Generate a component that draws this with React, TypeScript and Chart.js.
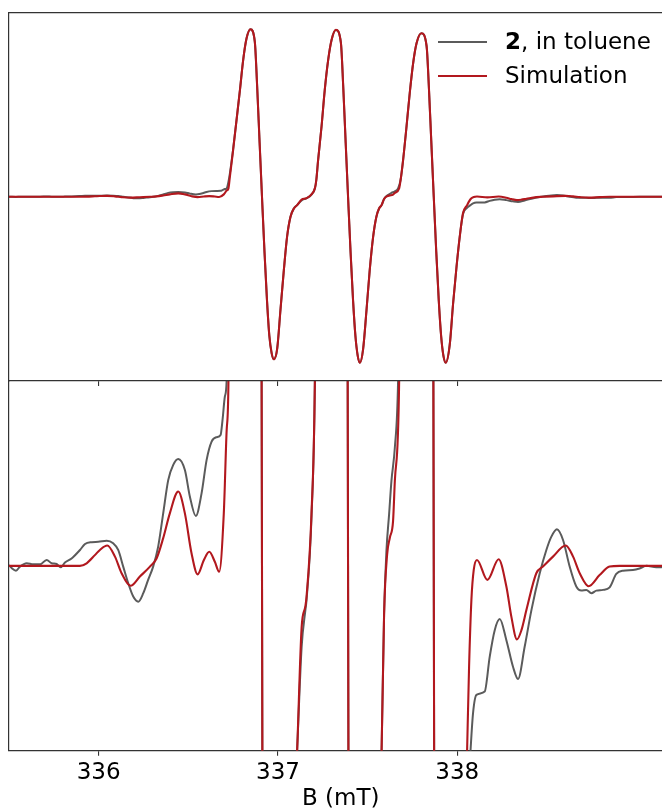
import React, { useEffect, useRef } from 'react';
import { Chart, registerables } from 'chart.js';

Chart.register(...registerables);

// ---- axis values ----
const xTickValues = [336, 337, 338];
const xMin = 335.5;
const xMax = 339.2;
const topYMin = -1.1;
const topYMax = 1.1;
const zoomYMin = -0.05;
const zoomYMax = 0.05;

// ---- Simulation (red) : field B (mT) and normalised derivative intensity ----
const simB = [
  335.500, 335.673, 335.896, 335.933, 335.979, 336.007, 336.048, 336.091, 336.128, 336.178,
  336.230, 336.286, 336.323, 336.360, 336.397, 336.444, 336.481, 336.518, 336.552, 336.587,
  336.617, 336.648, 336.672, 336.698, 336.714, 336.724, 336.732, 336.750, 336.769, 336.788,
  336.806, 336.825, 336.847, 336.871, 336.884, 336.897, 336.911, 336.925, 336.939, 336.952,
  336.965, 336.977, 336.996, 337.014, 337.033, 337.051, 337.070, 337.089, 337.107, 337.132,
  337.153, 337.159, 337.187, 337.206, 337.214, 337.224, 337.243, 337.261, 337.280, 337.299,
  337.323, 337.351, 337.364, 337.377, 337.391, 337.405, 337.419, 337.432, 337.445, 337.457,
  337.475, 337.494, 337.512, 337.531, 337.549, 337.564, 337.578, 337.592, 337.609, 337.624,
  337.642, 337.652, 337.676, 337.684, 337.698, 337.717, 337.735, 337.754, 337.773, 337.800,
  337.829, 337.842, 337.855, 337.869, 337.883, 337.897, 337.910, 337.923, 337.936, 337.958,
  337.977, 337.996, 338.014, 338.032, 338.055, 338.066, 338.079, 338.092, 338.110, 338.168,
  338.231, 338.274, 338.302, 338.333, 338.358, 338.386, 338.441, 338.478, 338.534, 338.605,
  338.646, 338.683, 338.733, 338.794, 338.850, 338.906, 339.200,
];
const simI = [
  0, 0, 0, 0.0007, 0.0029, 0.0043, 0.0055, 0.0025, -0.0020, -0.0054,
  -0.0029, -0.0002, 0.0020, 0.0075, 0.0142, 0.0201, 0.0142, 0.0034, -0.0023, 0.0016,
  0.0038, 0.0011, -0.0016, 0.0142, 0.0367, 0.050, 0.120, 0.279, 0.458, 0.637,
  0.816, 0.946, 1.000, 0.925, 0.660, 0.340, 0.000, -0.330, -0.620, -0.830,
  -0.935, -0.970, -0.905, -0.676, -0.437, -0.238, -0.119, -0.070, -0.050, -0.0167,
  -0.0109, -0.0086, 0.014, 0.050, 0.100, 0.219, 0.418, 0.637, 0.816, 0.936,
  0.996, 0.920, 0.660, 0.340, 0.000, -0.330, -0.620, -0.830, -0.950, -0.991,
  -0.910, -0.676, -0.437, -0.238, -0.119, -0.070, -0.050, -0.013, 0.0031, 0.0076,
  0.0121, 0.023, 0.050, 0.100, 0.219, 0.418, 0.618, 0.797, 0.916, 0.976,
  0.900, 0.650, 0.335, 0.000, -0.330, -0.620, -0.830, -0.950, -0.991, -0.885,
  -0.636, -0.418, -0.238, -0.099, -0.050, -0.0273, -0.0092, -0.0011, 0.0016, -0.0038,
  0.0018, -0.0056, -0.0138, -0.0199, -0.0174, -0.0119, -0.0020, -0.0002, 0.0025, 0.0055,
  0.0025, -0.0020, -0.0055, -0.0025, -0.0002, 0, 0,
];

// ---- Experiment "2, in toluene" (grey) ----
const expB = [
  335.500, 335.515, 335.539, 335.561, 335.599, 335.635, 335.673, 335.710, 335.738, 335.766,
  335.788, 335.812, 335.849, 335.896, 335.924, 335.961, 335.998, 336.045, 336.081, 336.109,
  336.137, 336.165, 336.193, 336.221, 336.249, 336.276, 336.304, 336.332, 336.360, 336.388,
  336.416, 336.444, 336.481, 336.509, 336.542, 336.574, 336.602, 336.630, 336.658, 336.680,
  336.691, 336.704, 336.714, 336.724, 336.732, 336.750,
  336.769, 336.788, 336.806, 336.825, 336.847, 336.871, 336.884, 336.897, 336.911, 336.925,
  336.939, 336.952, 336.965, 336.977, 336.996, 337.014, 337.033, 337.051, 337.070, 337.089,
  337.107, 337.132, 337.153, 337.159, 337.187, 337.206,
  337.214, 337.224, 337.243, 337.261, 337.280, 337.299, 337.323, 337.351, 337.364, 337.377,
  337.391, 337.405, 337.419, 337.432, 337.445, 337.457, 337.475, 337.494, 337.512, 337.531,
  337.549, 337.564, 337.578, 337.592,
  337.605, 337.620, 337.633, 337.652, 337.670,
  337.684, 337.698, 337.717, 337.735, 337.754, 337.773, 337.800, 337.829, 337.842, 337.855,
  337.869, 337.883, 337.897, 337.910, 337.923, 337.936, 337.958, 337.977, 337.996, 338.014,
  338.032, 338.053, 338.074, 338.088, 338.107, 338.153, 338.181, 338.209, 338.237, 338.274,
  338.311, 338.339, 338.376, 338.414, 338.460, 338.497, 338.525, 338.556, 338.590, 338.627,
  338.664, 338.692, 338.720, 338.748, 338.776, 338.813, 338.850, 338.887, 338.924, 338.980,
  339.017, 339.055, 339.110, 339.200,
];
const expI = [
  0.0002, -0.0006, -0.0013, -0.0002, 0.0007, 0.0004, 0.0004, 0.0016, 0.0007, 0.0005,
  -0.0004, 0.0009, 0.0020, 0.0043, 0.0059, 0.0064, 0.0065, 0.0068, 0.0061, 0.0043,
  -0.0002, -0.0047, -0.0083, -0.0097, -0.0074, -0.0038, -0.0002, 0.0052, 0.0142, 0.0232,
  0.0273, 0.0289, 0.0259, 0.0187, 0.0135, 0.0196, 0.0286, 0.0336, 0.0348, 0.0354,
  0.0395, 0.0458, 0.0503, 0.090, 0.140, 0.285,
  0.458, 0.637, 0.816, 0.946, 1.000, 0.925, 0.660, 0.340, 0.000, -0.330,
  -0.620, -0.830, -0.935, -0.970, -0.905, -0.676, -0.437, -0.238, -0.119, -0.070,
  -0.050, -0.022, -0.012, -0.0095, 0.013, 0.050,
  0.100, 0.219, 0.418, 0.637, 0.816, 0.936, 0.996, 0.920, 0.660, 0.340,
  0.000, -0.330, -0.620, -0.830, -0.950, -0.991, -0.910, -0.676, -0.437, -0.238,
  -0.119, -0.070, -0.050, -0.013,
  0.004, 0.014, 0.023, 0.032, 0.050,
  0.100, 0.219, 0.418, 0.618, 0.797, 0.916, 0.976, 0.900, 0.650, 0.335,
  0.000, -0.330, -0.620, -0.830, -0.950, -0.991, -0.885, -0.636, -0.418, -0.238,
  -0.105, -0.068, -0.050, -0.0399, -0.0349, -0.0340, -0.0246, -0.0174, -0.0144, -0.0201,
  -0.0273, -0.0306, -0.0219, -0.0119, -0.0020, 0.0043, 0.0079, 0.0099, 0.0070, -0.0002,
  -0.0056, -0.0067, -0.0065, -0.0074, -0.0067, -0.0065, -0.0058, -0.0022, -0.0013, -0.0011,
  -0.0007, 0.0000, -0.0004, 0.0000,
];

const expLabel = '2, in toluene';
const simLabel = 'Simulation';

// ---- styles ----
const GRAY = '#5b5b5b';
const RED = '#b2181e';
const FRAME = '#333333';
const FONT = "'DejaVu Sans', 'Liberation Sans', sans-serif";
const CANVAS_W = 690;

function makeDatasets(): any[] {
  return [
    {
      label: expLabel,
      data: expB.map((x, i) => ({ x, y: expI[i] })),
      borderColor: GRAY,
      borderWidth: 2,
      pointRadius: 0,
      fill: false,
      cubicInterpolationMode: 'monotone',
      order: 1,
    },
    {
      label: simLabel,
      data: simB.map((x, i) => ({ x, y: simI[i] })),
      borderColor: RED,
      borderWidth: 2.1,
      pointRadius: 0,
      fill: false,
      cubicInterpolationMode: 'monotone',
      order: 0,
    },
  ];
}

const setTicks = (axis: any) => {
  axis.ticks = xTickValues.map((v) => ({ value: v }));
};

const hiddenGrid = { display: false, drawTicks: false, tickLength: 0 };

function topConfig(): any {
  return {
    type: 'line',
    data: { datasets: makeDatasets() },
    options: {
      animation: false,
      responsive: false,
      events: [],
      layout: { padding: { left: 9, right: 17.6, top: 12.5, bottom: 0 } },
      plugins: { legend: { display: false }, tooltip: { enabled: false } },
      scales: {
        x: {
          type: 'linear',
          position: 'bottom',
          min: xMin,
          max: xMax,
          afterBuildTicks: setTicks,
          ticks: { display: false },
          grid: { display: true, drawOnChartArea: false, drawTicks: true, tickLength: 5, color: FRAME, lineWidth: 1.1 },
          border: { display: true, color: FRAME, width: 1.2 },
        },
        xTop: {
          type: 'linear',
          position: 'top',
          min: xMin,
          max: xMax,
          ticks: { display: false },
          grid: hiddenGrid,
          border: { display: true, color: FRAME, width: 1.2 },
        },
        y: {
          type: 'linear',
          min: topYMin,
          max: topYMax,
          ticks: { display: false },
          grid: hiddenGrid,
          border: { display: true, color: FRAME, width: 1.2 },
        },
      },
    },
  };
}

function bottomConfig(): any {
  return {
    type: 'line',
    data: { datasets: makeDatasets() },
    options: {
      animation: false,
      responsive: false,
      events: [],
      layout: { padding: { left: 9, right: 17.6, top: 5, bottom: 0 } },
      plugins: { legend: { display: false }, tooltip: { enabled: false } },
      scales: {
        x: {
          type: 'linear',
          position: 'bottom',
          min: xMin,
          max: xMax,
          afterBuildTicks: setTicks,
          afterFit: (s: any) => {
            s.height = 62.3;
          },
          ticks: {
            display: true,
            autoSkip: false,
            maxRotation: 0,
            padding: 4,
            color: '#000',
            font: { family: FONT, size: 23 },
            callback: (v: any) => String(v),
          },
          grid: { display: true, drawOnChartArea: false, drawTicks: true, tickLength: 5, color: FRAME, lineWidth: 1.1 },
          border: { display: true, color: FRAME, width: 1.2 },
          title: {
            display: true,
            text: 'B (mT)',
            color: '#000',
            font: { family: FONT, size: 23 },
            padding: { top: 0, bottom: 0 },
          },
        },
        y: {
          type: 'linear',
          min: zoomYMin,
          max: zoomYMax,
          ticks: { display: false },
          grid: hiddenGrid,
          border: { display: true, color: FRAME, width: 1.2 },
        },
      },
    },
  };
}

export default function App() {
  const topRef = useRef<HTMLCanvasElement>(null);
  const botRef = useRef<HTMLCanvasElement>(null);

  useEffect(() => {
    const top = new Chart(topRef.current as HTMLCanvasElement, topConfig());
    const bot = new Chart(botRef.current as HTMLCanvasElement, bottomConfig());
    return () => {
      top.destroy();
      bot.destroy();
    };
  }, []);

  const legendText: React.CSSProperties = {
    position: 'absolute',
    left: 505,
    fontFamily: FONT,
    fontSize: 23,
    lineHeight: '23px',
    whiteSpace: 'nowrap',
    color: '#000',
  };

  return (
    <div
      style={{
        position: 'fixed',
        left: 0,
        top: 0,
        width: 662,
        height: 809,
        overflow: 'hidden',
        background: '#fff',
      }}
    >
      <canvas ref={botRef} width={CANVAS_W} height={437} style={{ position: 'absolute', left: 0, top: 376 }} />
      <canvas ref={topRef} width={CANVAS_W} height={386} style={{ position: 'absolute', left: 0, top: 0 }} />
      <div style={{ position: 'absolute', left: 438, top: 41.3, width: 48.5, height: 2, background: GRAY }} />
      <div style={{ position: 'absolute', left: 438, top: 74.7, width: 48.5, height: 2, background: RED }} />
      <div style={{ ...legendText, top: 30.4 }}>
        <b>2</b>, in toluene
      </div>
      <div style={{ ...legendText, top: 63.9 }}>{simLabel}</div>
    </div>
  );
}
